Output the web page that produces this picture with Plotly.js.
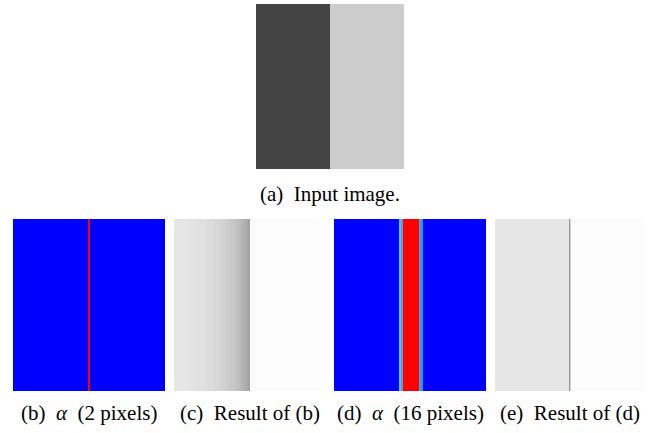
<!DOCTYPE html>
<html>
<head>
<meta charset="utf-8">
<script src="https://cdn.plot.ly/plotly-3.0.1.min.js"></script>
<style>html,body{margin:0;padding:0;background:#fff}</style>
</head>
<body>
<div id="chart"></div>
<script>
// ---- Data (image column profiles; edges in image pixel columns) ----
// (a) Input image: gray levels
const inputEdges = [0, 74, 148];
const inputGray = [68, 204];

// (b) alpha map, 2 pixels
const alpha2Edges = [0, 75, 77, 152];
const alpha2Vals = [0, 1, 0];

// (c) Result of (b): gray levels
const result2Edges = [0, 8, 16, 24, 32, 40, 46, 52, 56, 60, 63, 66, 68, 70, 72, 74, 76, 151];
const result2Gray = [230, 229, 227, 224, 220, 215, 210, 205, 200, 195, 190, 185, 180, 175, 169, 163, 252];

// (d) alpha map, 16 pixels
const alpha16Edges = [0, 65, 67, 69, 85, 86, 89, 152];
const alpha16Vals = [0, 0.25, 0.5, 1, 0.5, 0.2, 0];

// (e) Result of (d): gray levels
const result16Edges = [0, 74, 75, 76, 150];
const result16Gray = [230, 150, 215, 252];

// Captions
const captions = [
  '(a)  Input image.',
  '(b)  <i>α</i>  (2 pixels)',
  '(c)  Result of (b)',
  '(d)  <i>α</i>  (16 pixels)',
  '(e)  Result of (d)'
];

// ---- Styles ----
const SERIF = 'Liberation Serif';
const grayScale = [[0, '#000000'], [1, '#ffffff']];
const alphaScale = [[0, '#0000ff'], [0.2, '#1e9bff'], [0.25, '#22d2ff'], [0.5, '#8c8ca0'], [1, '#ff0000']];

function makePanel(edges, vals, scale, zmin, zmax, n) {
  return {
    type: 'heatmap',
    x: edges,
    z: [vals],
    colorscale: scale,
    zmin: zmin, zmax: zmax,
    showscale: false,
    xaxis: 'x' + (n === 1 ? '' : n),
    yaxis: 'y' + (n === 1 ? '' : n)
  };
}

const traces = [
  makePanel(inputEdges, inputGray, grayScale, 0, 255, 1),
  makePanel(alpha2Edges, alpha2Vals, alphaScale, 0, 1, 2),
  makePanel(result2Edges, result2Gray, grayScale, 0, 255, 3),
  makePanel(alpha16Edges, alpha16Vals, alphaScale, 0, 1, 4),
  makePanel(result16Edges, result16Gray, grayScale, 0, 255, 5)
];

const W = 667, H = 433;
const boxes = [
  [256, 404, 4, 169],
  [13, 165, 219, 391],
  [174, 325, 219, 391],
  [334, 486, 219, 391],
  [495, 645, 219, 391]
];
const ranges = [
  [0, 148], [0, 152], [0, 151], [0, 152], [0, 150]
];

const layout = {
  width: W, height: H,
  margin: {l: 0, r: 0, t: 0, b: 0},
  font: {family: SERIF, color: '#000000'},
  showlegend: false,
  annotations: []
};
const capY = [194, 413, 413, 413, 413];
boxes.forEach((b, i) => {
  const s = i === 0 ? '' : String(i + 1);
  layout['xaxis' + s] = {
    domain: [b[0] / W, b[1] / W], range: ranges[i], visible: false, anchor: 'y' + s
  };
  layout['yaxis' + s] = {
    domain: [1 - b[3] / H, 1 - b[2] / H], range: [-0.5, 0.5], visible: false, anchor: 'x' + s
  };
  layout.annotations.push({
    text: captions[i], showarrow: false,
    xref: 'paper', yref: 'paper',
    x: (b[0] + b[1]) / 2 / W, y: 1 - capY[i] / H,
    xanchor: 'center', yanchor: 'middle', align: 'center',
    font: {family: SERIF, size: 21, color: '#000000'}
  });
});

function forceSerif() {
  document.querySelectorAll('#chart text').forEach(el => {
    el.style.fontFamily = "'Liberation Serif'";
    el.setAttribute('font-family', 'Liberation Serif');
  });
}
Plotly.newPlot('chart', traces, layout, {staticPlot: true}).then(() => {
  forceSerif();
  setTimeout(forceSerif, 50);
});
</script>
</body>
</html>
